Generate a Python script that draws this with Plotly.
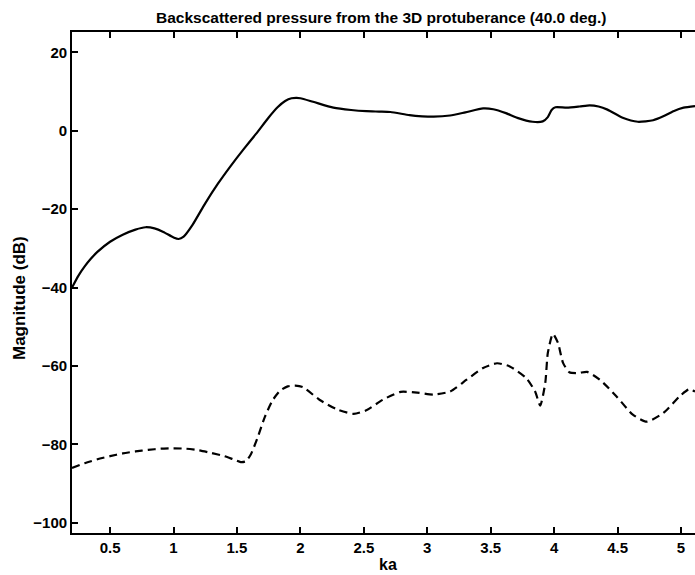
import plotly.graph_objects as go

# Solid curve (upper)
ka_solid = [0.20, 0.25, 0.30, 0.35, 0.40, 0.50, 0.60, 0.70, 0.78, 0.85, 0.92, 1.00, 1.04, 1.08,
            1.15, 1.25, 1.35, 1.45, 1.55, 1.65, 1.75, 1.82, 1.88, 1.93, 1.97, 2.00, 2.10, 2.26,
            2.40, 2.52, 2.62, 2.71, 2.86, 2.96, 3.05, 3.18, 3.30, 3.44, 3.52, 3.62, 3.71, 3.83,
            3.91, 3.95, 3.98, 4.01, 4.10, 4.20, 4.28, 4.35, 4.42, 4.54, 4.66, 4.78, 4.86, 4.94,
            5.02, 5.11]
db_solid = [-40.0, -37.0, -34.6, -32.6, -30.9, -28.3, -26.5, -25.2, -24.6, -24.9, -25.8, -27.2, -27.6, -27.0,
            -24.0, -18.5, -13.5, -9.0, -4.8, -0.8, 3.4, 6.0, 7.6, 8.3, 8.4, 8.3, 7.4, 5.9,
            5.3, 5.0, 4.9, 4.8, 4.0, 3.7, 3.6, 3.9, 4.7, 5.7, 5.5, 4.5, 3.3, 2.3,
            2.4, 3.5, 5.3, 6.0, 5.9, 6.2, 6.5, 6.2, 5.4, 3.3, 2.3, 2.7, 3.7, 5.0,
            5.9, 6.3]

# Dashed curve (lower)
ka_dash = [0.20, 0.30, 0.40, 0.50, 0.60, 0.70, 0.80, 0.90, 1.00, 1.10, 1.20, 1.30, 1.40, 1.47,
           1.53, 1.57, 1.61, 1.66, 1.72, 1.78, 1.84, 1.90, 1.96, 2.02, 2.15, 2.29, 2.42, 2.52,
           2.65, 2.79, 2.92, 3.05, 3.18, 3.31, 3.44, 3.55, 3.65, 3.78, 3.85, 3.89, 3.93, 3.95,
           3.99, 4.03, 4.07, 4.12, 4.19, 4.26, 4.36, 4.49, 4.62, 4.73, 4.86, 4.99, 5.06, 5.11]
db_dash = [-86.0, -84.8, -83.8, -83.0, -82.3, -81.8, -81.4, -81.1, -81.0, -81.1, -81.5, -82.2, -83.0, -83.8,
           -84.5, -84.3, -82.5, -78.5, -73.0, -68.8, -66.3, -65.2, -65.0, -65.4, -68.6, -71.1, -72.2, -71.3,
           -68.6, -66.6, -66.8, -67.3, -66.5, -63.5, -60.5, -59.3, -60.1, -63.1, -66.5, -70.1, -64.3, -56.7,
           -51.8, -54.1, -59.2, -61.6, -61.8, -61.5, -63.5, -67.7, -72.4, -74.2, -72.0, -67.7, -66.0, -66.5]

x_ticks = [0.5, 1, 1.5, 2, 2.5, 3, 3.5, 4, 4.5, 5]
x_tick_labels = ["0.5", "1", "1.5", "2", "2.5", "3", "3.5", "4", "4.5", "5"]
y_ticks = [20, 0, -20, -40, -60, -80, -100]
y_tick_labels = ["20", "0", "\u221220", "\u221240", "\u221260", "\u221280", "\u2212100"]

title_text = "Backscattered pressure from the 3D protuberance (40.0 deg.)"
x_label = "ka"
y_label = "Magnitude (dB)"

FONT = "Liberation Sans, Arial, Helvetica, sans-serif"

fig = go.Figure()
fig.add_trace(go.Scatter(x=ka_solid, y=db_solid, mode="lines",
                         line=dict(color="black", width=2.2, shape="spline", smoothing=0.6),
                         showlegend=False, hoverinfo="skip"))
fig.add_trace(go.Scatter(x=ka_dash, y=db_dash, mode="lines",
                         line=dict(color="black", width=2.2, dash="8px,5px", shape="spline", smoothing=0.6),
                         showlegend=False, hoverinfo="skip"))

fig.update_layout(
    width=695, height=575,
    margin=dict(l=72, r=0, t=32, b=42),
    paper_bgcolor="white", plot_bgcolor="white",
    font=dict(family=FONT, size=15, color="black"),
    xaxis=dict(range=[0.2, 5.11], tickvals=x_ticks, ticktext=["<b>%s</b>" % t for t in x_tick_labels],
               showgrid=False, zeroline=False, showline=True, linecolor="black", linewidth=1.8,
               mirror="ticks", ticks="inside", ticklen=6, tickcolor="black", tickwidth=1.5,
               tickfont=dict(family=FONT, size=15, color="black")),
    yaxis=dict(range=[-102.6, 25.2], tickvals=y_ticks, ticktext=["<b>%s</b>" % t for t in y_tick_labels],
               showgrid=False, zeroline=False, showline=True, linecolor="black", linewidth=1.8,
               mirror=False, ticks="inside", ticklen=6, tickcolor="black", tickwidth=1.5,
               tickfont=dict(family=FONT, size=15, color="black")),
)

pw, ph = 695 - 72, 575 - 32 - 42
def px_x(x):
    return (x - 72) / pw
def px_y(y):
    return (575 - 42 - y) / ph

fig.add_annotation(text="<b>%s</b>" % title_text, x=px_x(381), y=px_y(18), xref="paper", yref="paper",
                   xanchor="center", yanchor="middle", showarrow=False,
                   font=dict(family=FONT, size=15.5, color="black"))
fig.add_annotation(text="<b>%s</b>" % x_label, x=px_x(388), y=px_y(564), xref="paper", yref="paper",
                   xanchor="center", yanchor="middle", showarrow=False,
                   font=dict(family=FONT, size=16, color="black"))
fig.add_annotation(text="<b>%s</b>" % y_label, textangle=-90, x=px_x(19), y=px_y(298), xref="paper", yref="paper",
                   xanchor="center", yanchor="middle", showarrow=False,
                   font=dict(family=FONT, size=17, color="black"))

fig.write_html("out.html")
